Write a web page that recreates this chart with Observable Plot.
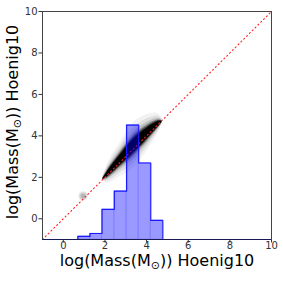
<!DOCTYPE html>
<html><head><meta charset="utf-8">
<script src="https://cdn.jsdelivr.net/npm/d3@7"></script>
<script src="https://cdn.jsdelivr.net/npm/@observablehq/plot@0.6"></script>
<style>body{margin:0;background:#fff;font-family:"DejaVu Sans",sans-serif}</style>
</head><body><div id="chart"></div>
<script>
const axisTicks = [0, 2, 4, 6, 8, 10];
const binEdges = [0.7, 1.28, 1.86, 2.45, 3.04, 3.62, 4.2, 4.78];
const binTops = [-0.85, -0.71, 0.45, 1.33, 4.52, 2.69, -0.08];
// density cloud: centre line and half-thickness (vertical, data units)
const cloudX = [1.9, 2.1, 2.3, 2.5, 2.7, 2.9, 3.1, 3.3, 3.5, 3.7, 3.9, 4.1, 4.3, 4.5, 4.65, 4.75];
const cloudY = [1.92, 2.13, 2.36, 2.58, 2.8, 3.02, 3.23, 3.44, 3.64, 3.83, 4.01, 4.19, 4.37, 4.53, 4.63, 4.68];
const cloudW = [0.02, 0.13, 0.19, 0.23, 0.26, 0.3, 0.34, 0.36, 0.36, 0.34, 0.31, 0.27, 0.22, 0.16, 0.09, 0.02];
const faintX = [0.95];
const faintY = [1.1];
const diag = [-1, 10];

const bins = binTops.map((t, i) => ({x1: binEdges[i], x2: binEdges[i + 1], top: t}));
const cloud = cloudX.map((x, i) => ({x, y: cloudY[i], w: cloudW[i]}));
const faint = faintX.map((x, i) => ({x, y: faintY[i]}));
const stepPts = [{x: binEdges[0], y: -1}];
bins.forEach(b => { stepPts.push({x: b.x1, y: b.top}); stepPts.push({x: b.x2, y: b.top}); });
stepPts.push({x: binEdges[binEdges.length - 1], y: -1});

const layers = [[2.8, 0.05], [2.2, 0.08], [1.7, 0.14], [1.35, 0.3], [1.12, 0.55], [0.9, 1]];
const cloudMarks = layers.map(([k, o]) =>
  Plot.areaY(cloud, {x: "x", y1: d => d.y - d.w * k - 0.03 * (k - 1), y2: d => d.y + d.w * k + 0.06 * (k - 1),
    fill: "#000", fillOpacity: o, curve: "natural"}));
const faintMarks = [[5, 0.06], [4, 0.08], [3, 0.1], [2, 0.1]].map(([r, o]) =>
  Plot.dot(faint, {x: "x", y: "y", r, fill: "#000", fillOpacity: o}));

const chart = Plot.plot({
  width: 283, height: 283,
  marginLeft: 42, marginRight: 12, marginTop: 11, marginBottom: 44,
  style: {fontFamily: "DejaVu Sans", fontSize: "10px", color: "#333", background: "#fff"},
  x: {domain: [-1, 10], ticks: axisTicks, tickSize: 3.5, tickPadding: -1, label: null},
  y: {domain: [-1, 10], ticks: axisTicks, tickSize: 3.5, tickPadding: 1.5, label: null},
  marks: [
    ...faintMarks,
    ...cloudMarks,
    Plot.line(diag.map(v => ({v})), {x: "v", y: "v", stroke: "#ff2020", strokeWidth: 1.1, strokeDasharray: "1.1,2.9"}),
    Plot.rectY(bins, {x1: "x1", x2: "x2", y1: -1, y2: "top", fill: "blue", fillOpacity: 0.4, stroke: "blue", strokeOpacity: 0.12}),
    Plot.line(stepPts, {x: "x", y: "y", stroke: "#1a1aff", strokeWidth: 1.2}),
    Plot.frame({stroke: "#444", strokeWidth: 1}),
    Plot.ruleY([-1], {stroke: "#1a1a55", strokeWidth: 1.2})
  ]
});

const svg = d3.select(chart);
function addLabel(x, y, rot) {
  const t = svg.append("text").attr("text-anchor", "middle").attr("fill", "#000")
    .attr("font-family", "DejaVu Sans").attr("font-size", "16px")
    .attr("transform", `translate(${x},${y}) rotate(${rot})`);
  t.append("tspan").text("log(Mass(M");
  t.append("tspan").attr("font-size", "11px").attr("dy", "3").text("⊙");
  t.append("tspan").attr("dy", "-3").text(")) Hoenig10");
}
addLabel(157, 266, 0);
addLabel(18, 122, -90);

document.getElementById("chart").appendChild(chart);
</script></body></html>
